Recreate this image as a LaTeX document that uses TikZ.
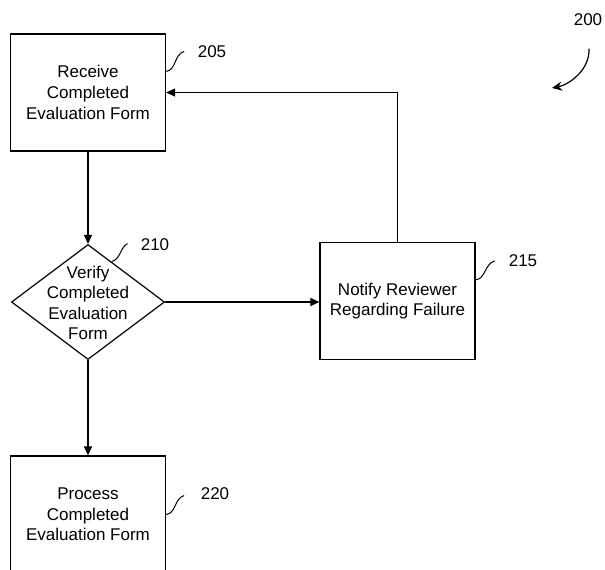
\documentclass[tikz,border=0pt]{standalone}
\usepackage{fontspec}
\setmainfont{Liberation Sans}
\usetikzlibrary{shapes.geometric,arrows.meta}
\begin{document}
\begin{tikzpicture}[x=0.5pt,y=-0.5pt,line width=0.6pt,
  box/.style={draw,minimum width=77.5pt,minimum height=58.5pt,inner sep=0pt,
    align=center,font=\fontsize{8.5}{10.3}\selectfont},
  decision/.style={draw,diamond,minimum width=76.5pt,minimum height=57.5pt,inner sep=0pt},
  txt/.style={align=center,inner sep=1pt,font=\fontsize{8.5}{10.3}\selectfont},
  flowline/.style={-{Triangle[length=4.5pt,width=4pt]}},
  squiggle/.style={line width=0.5pt}]

\useasboundingbox (0,0) rectangle (605,569);

% steps
\node[box] (receive) at (88,92.5) {Receive\\Completed\\Evaluation Form};
\node[decision] (verify) at (88,302) {};
\node[txt] (verifytext) at (88,303) {Verify\\Completed\\Evaluation\\Form};
\node[box] (notify) at (397.5,301) {Notify Reviewer\\Regarding Failure};
\node[box] (process) at (88,514.5) {Process\\Completed\\Evaluation Form};

% reference numbers
\node[txt] (n200) at (588,20) {200};
\node[txt] (n205) at (212,52) {205};
\node[txt] (n210) at (155,245) {210};
\node[txt] (n215) at (523,261) {215};
\node[txt] (n220) at (215,494) {220};

% flow
\draw[flowline] (receive) -- (verify);
\draw[flowline] (verify.east) -- (verify.east -| notify.west);
\draw[flowline] (verify) -- (process);
\draw[flowline] (notify.north) |- (receive.east);

% leaders
\draw[squiggle] (receive.north east) ++(0,38) .. controls +(10,-1) and +(-10,3) .. ++(18,-20);
\draw[squiggle] (verify.north) ++(23.5,17.7) .. controls +(9,-2) and +(-7,3) .. ++(16,-18);
\draw[squiggle] (notify.north east) ++(0,38) .. controls +(10,-1) and +(-10,3) .. ++(19,-19);
\draw[squiggle] (process.east) .. controls +(10,-1) and +(-10,3) .. ++(18,-19);

\coordinate (ptr) at (552,88);
\draw[-{Stealth[length=5pt,width=4.5pt]}] (n200.south) ++(1,20)
  .. controls +(1,22) and +(16,-3) .. (ptr);
\end{tikzpicture}
\end{document}
